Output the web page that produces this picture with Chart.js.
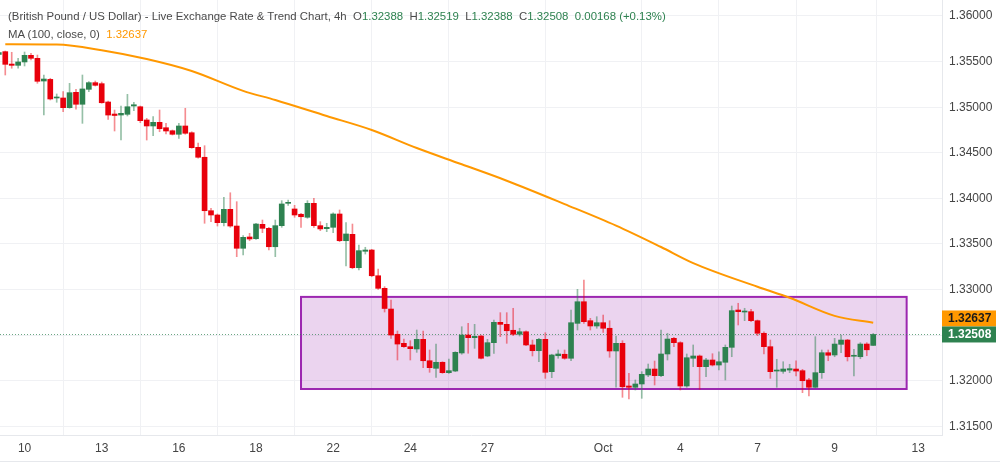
<!DOCTYPE html>
<html>
<head>
<meta charset="utf-8">
<script src="https://cdn.jsdelivr.net/npm/chart.js@4/dist/chart.umd.min.js"></script>
<style>
html,body{margin:0;padding:0;background:#fff;}
#wrap{position:relative;width:1000px;height:473px;overflow:hidden;}
#hdr{position:absolute;left:8px;top:7px;font-family:'Liberation Sans',sans-serif;font-size:11.4px;color:#4a4a4a;line-height:18px;white-space:pre;}
.g{color:#2e8250;}
.o{color:#ff9800;}
</style>
</head>
<body>
<div id="wrap">
<canvas id="chartFX" width="1000" height="473"></canvas>
<div id="hdr"></div>
</div>
<script>
// GBP/USD 4h candles, first one is cut by the left edge
const OPEN=[1.35580,1.35609,1.35473,1.35459,1.35496,1.35569,1.35536,1.35287,1.35305,1.35101,1.35101,1.34995,1.35163,1.35032,1.35196,1.35269,1.35258,1.35057,1.34925,1.34914,1.34922,1.35013,1.35005,1.34860,1.34794,1.34834,1.34775,1.34742,1.34703,1.34794,1.34720,1.34560,1.34451,1.33865,1.33818,1.33734,1.33880,1.33697,1.33453,1.33577,1.33558,1.33716,1.33672,1.33470,1.33701,1.33946,1.33884,1.33826,1.33793,1.33946,1.33701,1.33668,1.33683,1.33829,1.33536,1.33606,1.33240,1.33420,1.33434,1.33152,1.33014,1.32787,1.32510,1.32411,1.32374,1.32349,1.32455,1.32220,1.32137,1.32203,1.32089,1.32107,1.32305,1.32502,1.32473,1.32491,1.32272,1.32418,1.32641,1.32619,1.32554,1.32510,1.32538,1.32393,1.32330,1.32455,1.32100,1.32275,1.32291,1.32247,1.32630,1.32867,1.32659,1.32601,1.32637,1.32576,1.32327,1.32411,1.31943,1.31929,1.31965,1.32064,1.32129,1.32056,1.32294,1.32466,1.32418,1.31943,1.32247,1.32272,1.32155,1.32228,1.32173,1.32203,1.32367,1.32776,1.32754,1.32758,1.32659,1.32521,1.32374,1.32107,1.32104,1.32118,1.32129,1.32111,1.32009,1.31929,1.32089,1.32308,1.32283,1.32400,1.32447,1.32269,1.32264,1.32403,1.32388];
const HIGH=[1.35620,1.35616,1.35602,1.35536,1.35605,1.35591,1.35572,1.35353,1.35317,1.35145,1.35170,1.35262,1.35196,1.35353,1.35280,1.35287,1.35276,1.35068,1.34969,1.35013,1.35141,1.35054,1.35013,1.34878,1.34896,1.34969,1.34823,1.34750,1.34823,1.34988,1.34731,1.34607,1.34578,1.33891,1.33829,1.34012,1.34062,1.33964,1.33591,1.33617,1.33727,1.33763,1.33683,1.33763,1.33975,1.33982,1.33924,1.33836,1.33975,1.34001,1.33745,1.33727,1.33843,1.33873,1.33734,1.33719,1.33489,1.33464,1.33442,1.33226,1.33032,1.32886,1.32546,1.32458,1.32440,1.32557,1.32546,1.32338,1.32403,1.32209,1.32239,1.32319,1.32593,1.32630,1.32619,1.32502,1.32455,1.32667,1.32747,1.32747,1.32795,1.32576,1.32549,1.32447,1.32466,1.32527,1.32291,1.32338,1.32338,1.32776,1.33003,1.33105,1.32685,1.32703,1.32721,1.32659,1.32491,1.32440,1.32082,1.32009,1.32100,1.32184,1.32217,1.32557,1.32521,1.32477,1.32429,1.32294,1.32393,1.32283,1.32247,1.32297,1.32319,1.32393,1.32820,1.32850,1.32795,1.32784,1.32667,1.32538,1.32447,1.32236,1.32209,1.32181,1.32220,1.32126,1.32027,1.32484,1.32338,1.32338,1.32466,1.32502,1.32455,1.32345,1.32418,1.32418,1.32519];
const LOW=[1.35550,1.35353,1.35427,1.35427,1.35452,1.35518,1.35262,1.34914,1.35079,1.35054,1.34951,1.34988,1.34977,1.34823,1.35170,1.35232,1.35043,1.34867,1.34739,1.34640,1.34904,1.34962,1.34830,1.34640,1.34687,1.34731,1.34706,1.34695,1.34659,1.34703,1.34549,1.34440,1.33727,1.33745,1.33697,1.33697,1.33683,1.33361,1.33379,1.33536,1.33551,1.33624,1.33434,1.33361,1.33683,1.33924,1.33793,1.33683,1.33782,1.33683,1.33646,1.33635,1.33624,1.33525,1.33259,1.33229,1.33215,1.33390,1.33141,1.33003,1.32754,1.32466,1.32228,1.32367,1.32228,1.32312,1.32144,1.32093,1.32038,1.32082,1.32082,1.32100,1.32291,1.32302,1.32356,1.32239,1.32264,1.32299,1.32484,1.32411,1.32495,1.32491,1.32385,1.32272,1.32209,1.32027,1.32034,1.32247,1.32236,1.32220,1.32557,1.32630,1.32557,1.32576,1.32530,1.32258,1.31929,1.31819,1.31800,1.31899,1.31808,1.32045,1.31954,1.32045,1.32228,1.32374,1.31899,1.31929,1.32155,1.31907,1.32045,1.32162,1.32118,1.32009,1.32264,1.32612,1.32659,1.32648,1.32495,1.32294,1.32027,1.31929,1.32082,1.32089,1.32053,1.31870,1.31833,1.31921,1.32027,1.32220,1.32264,1.32308,1.32217,1.32053,1.32242,1.32275,1.32388];
const CLOSE=[1.35600,1.35470,1.35459,1.35496,1.35569,1.35536,1.35284,1.35309,1.35090,1.35112,1.34995,1.35159,1.35032,1.35200,1.35269,1.35240,1.35049,1.34914,1.34909,1.34933,1.35005,1.35027,1.34852,1.34794,1.34834,1.34764,1.34739,1.34703,1.34794,1.34714,1.34556,1.34451,1.33865,1.33818,1.33734,1.33880,1.33697,1.33453,1.33573,1.33555,1.33719,1.33672,1.33470,1.33701,1.33939,1.33957,1.33818,1.33799,1.33946,1.33701,1.33665,1.33683,1.33829,1.33536,1.33610,1.33240,1.33427,1.33434,1.33152,1.33014,1.32793,1.32502,1.32403,1.32374,1.32352,1.32455,1.32220,1.32144,1.32203,1.32089,1.32111,1.32312,1.32502,1.32473,1.32488,1.32247,1.32418,1.32641,1.32619,1.32549,1.32510,1.32538,1.32393,1.32330,1.32455,1.32093,1.32283,1.32294,1.32247,1.32637,1.32867,1.32648,1.32601,1.32637,1.32576,1.32327,1.32411,1.31935,1.31929,1.31965,1.32071,1.32129,1.32056,1.32294,1.32458,1.32418,1.31943,1.32253,1.32272,1.32155,1.32228,1.32173,1.32209,1.32367,1.32769,1.32758,1.32765,1.32659,1.32521,1.32374,1.32100,1.32118,1.32129,1.32133,1.32107,1.32001,1.31929,1.32089,1.32308,1.32280,1.32403,1.32447,1.32264,1.32272,1.32403,1.32340,1.32508];
const FIRST_IDX=-1;

// MA(100) read at sample candles
const MA_IDX=[0,8,15,22,29,37,42,50,57,64,71,78,87,95,102,107,117,122,129,135];
const MA_VAL=[1.35690,1.35687,1.35625,1.35528,1.35397,1.35179,1.35079,1.34903,1.34750,1.34552,1.34374,1.34194,1.33938,1.33702,1.33467,1.33291,1.33031,1.32910,1.32712,1.32637];

// date ticks
const DATE_IDX=[3,15,27,39,51,63,75,93,105,117,129,142];
const DATE_LBL=['10','13','16','18','22','24','27','Oct','4','7','9','13'];
const PRICE_TICKS=[1.315,1.32,1.325,1.33,1.335,1.34,1.345,1.35,1.355,1.36];

// consolidation box: from/to candle, low/high price
const BOX_IDX=[46,140.2];
const BOX_PRICE=[1.3191,1.3292];

const UP='#2e8250',DOWN='#e8000b',UPW='rgba(46,130,80,0.5)',DOWNW='rgba(232,0,11,0.45)',MAC='#ff9800';

const isUp=i=>CLOSE[i]>=OPEN[i];
const wicks=OPEN.map((o,i)=>({x:i+FIRST_IDX,y:[LOW[i],HIGH[i]]}));
const bodies=OPEN.map((o,i)=>({x:i+FIRST_IDX,y:[o,CLOSE[i]]}));
const last=CLOSE.length-1;
const maLast=MA_VAL[MA_VAL.length-1];

// header
const chg=CLOSE[last]-CLOSE[last-1];
document.getElementById('hdr').innerHTML=
 '(British Pound / US Dollar) - Live Exchange Rate &amp; Trend Chart, 4h  '+
 'O<span class="g">'+OPEN[last].toFixed(5)+'</span>  H<span class="g">'+HIGH[last].toFixed(5)+
 '</span>  L<span class="g">'+LOW[last].toFixed(5)+'</span>  C<span class="g">'+CLOSE[last].toFixed(5)+
 '</span>  <span class="g">'+chg.toFixed(5)+' (+'+(chg/CLOSE[last-1]*100).toFixed(2)+'%)</span>\n'+
 'MA (100, close, 0)  <span class="o">'+maLast.toFixed(5)+'</span>';

const boxPlugin={
 id:'boxPlugin',
 beforeDatasetsDraw(chart){
  const {ctx,scales:{x,y}}=chart;
  const l=x.getPixelForValue(BOX_IDX[0]),r=x.getPixelForValue(BOX_IDX[1]);
  const t=y.getPixelForValue(BOX_PRICE[1]),b=y.getPixelForValue(BOX_PRICE[0]);
  ctx.save();
  ctx.fillStyle='rgba(156,39,176,0.2)';
  ctx.fillRect(l,t,r-l,b-t);
  ctx.strokeStyle='#9c27b0';ctx.lineWidth=2;
  ctx.strokeRect(l,t,r-l,b-t);
  // last price dotted line
  const py=Math.round(y.getPixelForValue(CLOSE[last]))+0.5;
  ctx.strokeStyle='rgba(46,130,80,0.7)';ctx.lineWidth=1;ctx.setLineDash([1,2]);
  ctx.beginPath();ctx.moveTo(chart.chartArea.left,py);ctx.lineTo(chart.chartArea.right,py);ctx.stroke();
  ctx.restore();
 },
 afterDraw(chart){
  const {ctx,scales:{y}}=chart;
  const ax=chart.chartArea.right, w=54, h=16;
  const gy=y.getPixelForValue(CLOSE[last]);
  let oy=y.getPixelForValue(maLast);
  if(oy>gy-h) oy=gy-h;
  ctx.save();
  ctx.font='bold 12px "Liberation Sans", sans-serif';
  ctx.textBaseline='middle';ctx.textAlign='left';
  ctx.fillStyle=MAC;ctx.fillRect(ax,oy-h/2,w,h);
  ctx.fillStyle='#1a1a1a';ctx.fillText(maLast.toFixed(5),ax+6,oy+0.5);
  ctx.fillStyle=UP;ctx.fillRect(ax,gy-h/2,w,h);
  ctx.fillStyle='#fff';ctx.fillText(CLOSE[last].toFixed(5),ax+6,gy+0.5);
  // bottom frame line
  ctx.strokeStyle='#e6e8ec';ctx.lineWidth=1;
  ctx.beginPath();ctx.moveTo(0,461.5);ctx.lineTo(1000,461.5);ctx.stroke();
  ctx.restore();
 }
};

const chartFX=new Chart(document.getElementById('chartFX'),{
 data:{
  datasets:[
   {type:'line',data:MA_IDX.map((v,k)=>({x:v,y:MA_VAL[k]})),borderColor:MAC,borderWidth:2,pointRadius:0,cubicInterpolationMode:'monotone',order:0},
   {type:'bar',data:bodies,backgroundColor:OPEN.map((o,i)=>isUp(i)?UP:DOWN),barThickness:5,minBarLength:1,grouped:false,order:1},
   {type:'bar',data:wicks,backgroundColor:OPEN.map((o,i)=>isUp(i)?UPW:DOWNW),barThickness:1,grouped:false,order:2}
  ]
 },
 options:{
  responsive:false,animation:false,
  layout:{padding:{top:0,bottom:12,left:0,right:0}},
  plugins:{legend:{display:false},tooltip:{enabled:false}},
  scales:{
   x:{type:'linear',min:-0.82,max:145.7,offset:false,
    grid:{color:'#f0f1f4',drawTicks:false},
    border:{color:'#e6e8ec'},
    afterBuildTicks:s=>{s.ticks=DATE_IDX.map(v=>({value:v}));},
    afterFit:s=>{s.height=26;s.paddingLeft=0;s.paddingRight=0;},
    ticks:{autoSkip:false,maxRotation:0,padding:6,color:'#444',font:{family:'Liberation Sans',size:12},
     callback:(v,i)=>DATE_LBL[i]}
   },
   y:{type:'linear',position:'right',min:1.314057,max:1.361754,
    grid:{color:'#f0f1f4',drawTicks:false},
    border:{color:'#e6e8ec'},
    afterBuildTicks:s=>{s.ticks=PRICE_TICKS.map(v=>({value:v}));},
    afterFit:s=>{s.width=58;s.paddingTop=0;s.paddingBottom=0;},
    ticks:{padding:7,color:'#444',font:{family:'Liberation Sans',size:12},callback:v=>v.toFixed(5)}
   }
  }
 },
 plugins:[boxPlugin]
});
</script>
</body>
</html>
